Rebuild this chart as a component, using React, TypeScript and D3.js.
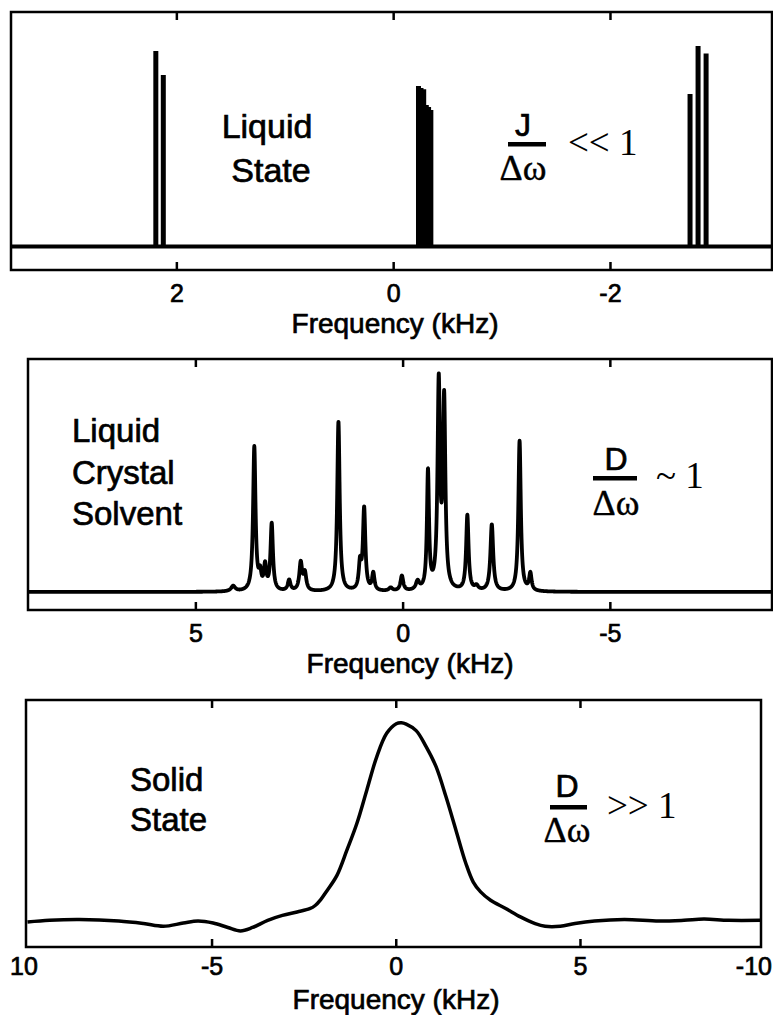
import React from 'react';
import * as d3 from 'd3';

// ---- Liquid state: narrow, J-coupled lines (kHz, relative height) ----
const liquidLineFreqs = [2.194, 2.125, -0.229, -0.252, -0.277, -0.301, -0.322, -0.343, -2.734, -2.808, -2.882];
const liquidLineHeights = [0.975, 0.855, 0.8, 0.79, 0.784, 0.706, 0.696, 0.681, 0.76, 1.0, 0.963];
const liquidTicks = [2, 0, -2];
const liquidTickLabels = ['2', '0', '-2'];

// ---- Liquid crystal solvent: dipolar-split lines (kHz, height, half width kHz) ----
const lcPeakFreqs = [4.1, 3.59, 3.45, 3.33, 3.17, 2.75, 2.47, 2.37, 1.56, 1.04, 0.94, 0.72, 0.3, 0.03, -0.35, -0.6, -0.86, -0.99, -1.55, -1.77, -2.14, -2.81, -3.07];
const lcPeakHeights = [0.025, 0.67, 0.07, 0.11, 0.31, 0.05, 0.13, 0.08, 0.79, 0.12, 0.38, 0.08, 0.015, 0.07, 0.04, 0.55, 0.95, 0.87, 0.35, 0.02, 0.31, 0.7, 0.08];
const lcPeakWidths = [0.06, 0.035, 0.035, 0.035, 0.035, 0.04, 0.04, 0.04, 0.035, 0.035, 0.035, 0.035, 0.05, 0.04, 0.05, 0.03, 0.035, 0.035, 0.035, 0.05, 0.04, 0.035, 0.035];
const lcTicks = [5, 0, -5];
const lcTickLabels = ['5', '0', '-5'];

// ---- Solid state: broad, featureless envelope ----
const solidFreqs = [10.01, 9.41, 8.6, 7.53, 6.86, 6.32, 5.78, 5.38, 4.97, 4.57, 4.23, 3.9, 3.49, 3.09, 2.69, 2.35, 2.2, 2.05, 1.88, 1.61, 1.34, 1.07, 0.8, 0.53, 0.26, 0.0, -0.14, -0.27, -0.54, -0.81, -1.08, -1.35, -1.62, -1.89, -2.09, -2.29, -2.56, -2.97, -3.37, -3.77, -4.04, -4.45, -4.85, -5.38, -6.19, -7.13, -7.81, -8.35, -9.02, -9.89];
const solidIntensity = [0.101, 0.108, 0.111, 0.105, 0.095, 0.084, 0.097, 0.105, 0.097, 0.079, 0.065, 0.079, 0.108, 0.128, 0.142, 0.155, 0.168, 0.192, 0.228, 0.29, 0.392, 0.5, 0.635, 0.77, 0.865, 0.904, 0.908, 0.902, 0.876, 0.811, 0.73, 0.608, 0.473, 0.338, 0.263, 0.223, 0.189, 0.156, 0.122, 0.095, 0.084, 0.084, 0.095, 0.105, 0.111, 0.105, 0.108, 0.113, 0.108, 0.108];
const solidTickValues = [10, 5, 0, -5, -10];
const solidTickLabels = ['10', '-5', '0', '5', '-10'];

const SANS = '"Liberation Sans", Arial, Helvetica, sans-serif';
const SERIF = '"Liberation Serif", "Times New Roman", Times, serif';
const INK = 0.7; // slight outline so type carries the weight of the printed figure

type Box = { left: number; right: number; top: number; bottom: number };

const topBox: Box = { left: 11, right: 772, top: 12, bottom: 270 };
const midBox: Box = { left: 28, right: 772, top: 359, bottom: 610 };
const botBox: Box = { left: 26, right: 761, top: 700, bottom: 947 };

function Frame({ box, ticks, x }: { box: Box; ticks: number[]; x: (v: number) => number }) {
  const inner = ticks.filter((t) => x(t) > box.left + 4 && x(t) < box.right - 4);
  return (
    <g stroke="#000" strokeWidth={2.5} fill="none">
      <rect x={box.left} y={box.top} width={box.right - box.left} height={box.bottom - box.top} />
      {inner.map((t) => (
        <g key={t}>
          <line x1={x(t)} x2={x(t)} y1={box.top} y2={box.top + 8} />
          <line x1={x(t)} x2={x(t)} y1={box.bottom} y2={box.bottom - 8} />
        </g>
      ))}
    </g>
  );
}

function TickLabels({ ticks, labels, x, y, box }: { ticks: number[]; labels: string[]; x: (v: number) => number; y: number; box: Box }) {
  return (
    <g fontFamily={SANS} fontSize={25} fill="#000" stroke="#000" strokeWidth={INK}>
      {ticks.map((t, i) => {
        const px = x(t);
        // end labels sitting on the frame edge are kept inside the page
        const anchor = px < box.left + 4 ? 'start' : px > box.right - 4 ? 'end' : 'middle';
        const tx = anchor === 'start' ? 10 : anchor === 'end' ? 772 : px;
        return (
          <text key={t} x={tx} y={y} textAnchor={anchor}>
            {labels[i]}
          </text>
        );
      })}
    </g>
  );
}

function Ratio({ cx, top, bottom, sym, rel, barY, barX0, barX1, relX, relY }: {
  cx: number; top: number; bottom: number; sym: string; rel: string; barY: number; barX0: number; barX1: number; relX: number; relY: number;
}) {
  return (
    <g fill="#000">
      <text x={cx} y={top} fontFamily={SANS} fontSize={32} textAnchor="middle" stroke="#000" strokeWidth={INK}>{sym}</text>
      <rect x={barX0} y={barY} width={barX1 - barX0} height={4.5} />
      <text x={cx} y={bottom} fontFamily={SERIF} fontSize={36} textAnchor="middle" stroke="#000" strokeWidth={0.4}>Δω</text>
      <text x={relX} y={relY} fontFamily={SERIF} fontSize={37}>{rel}</text>
    </g>
  );
}

export default function App() {
  // Liquid state panel
  const xTop = d3.scaleLinear().domain([3.53, -3.49]).range([topBox.left, topBox.right]);
  const yTop = d3.scaleLinear().domain([0, 1]).range([246.5, 46]);
  const [dTopMax, dTopMin] = xTop.domain();
  const baseTop = d3.line<number>().x((f) => xTop(f)).y(() => yTop(0))([dTopMax, dTopMin]) || '';
  const stick = d3.line<[number, number]>().x((d) => xTop(d[0])).y((d) => yTop(d[1]));

  // Liquid crystal panel: sum of Lorentzian lines on a fine grid
  const xMid = d3.scaleLinear().domain([9.05, -8.9]).range([midBox.left, midBox.right]);
  const yMid = d3.scaleLinear().domain([0, 1]).range([592, 377]);
  const grid = d3.range(9.05, -8.9, -0.004);
  const lcSpectrum = grid.map((f) => {
    let s = 0;
    for (let i = 0; i < lcPeakFreqs.length; i++) {
      const w = lcPeakWidths[i];
      const d = f - lcPeakFreqs[i];
      s += (lcPeakHeights[i] * w * w) / (w * w + d * d);
    }
    return [f, s] as [number, number];
  });
  const midPath = d3.line<[number, number]>().x((d) => xMid(d[0])).y((d) => yMid(d[1]))(lcSpectrum) || '';

  // Solid state panel
  const xBot = d3.scaleLinear().domain([10.05, -9.9]).range([botBox.left, botBox.right]);
  const yBot = d3.scaleLinear().domain([0, 1]).range([botBox.bottom, botBox.top]);
  const solidPts = solidFreqs.map((f, i) => [f, solidIntensity[i]] as [number, number]);
  const botPath = d3
    .line<[number, number]>()
    .x((d) => xBot(d[0]))
    .y((d) => yBot(d[1]))
    .curve(d3.curveCatmullRom.alpha(0.5))(solidPts) || '';

  const labelStyle = { fontFamily: SANS, fill: '#000', stroke: '#000', strokeWidth: INK };

  return (
    <svg width={773} height={1015} style={{ position: 'absolute', left: 0, top: 0, background: '#fff' }}>
      <rect width={773} height={1015} fill="#fff" />

      {/* Liquid state */}
      <Frame box={topBox} ticks={liquidTicks} x={xTop} />
      <path d={baseTop} stroke="#000" strokeWidth={4} fill="none" />
      {liquidLineFreqs.map((f, i) => (
        <path key={i} d={stick([[f, 0], [f, liquidLineHeights[i]]]) || ''} stroke="#000" strokeWidth={5} fill="none" />
      ))}
      <g style={labelStyle} fontSize={34} textAnchor="middle">
        <text x={267} y={138}>Liquid</text>
        <text x={271} y={181.5}>State</text>
      </g>
      <Ratio cx={523} top={136} bottom={180} sym="J" rel="<< 1" barY={142} barX0={508} barX1={546} relX={568} relY={155} />
      <TickLabels ticks={liquidTicks} labels={liquidTickLabels} x={xTop} y={302} box={topBox} />
      <text x={395} y={333} style={labelStyle} fontSize={28} textAnchor="middle">Frequency (kHz)</text>

      {/* Liquid crystal solvent */}
      <Frame box={midBox} ticks={lcTicks} x={xMid} />
      <path d={midPath} stroke="#000" strokeWidth={3.8} fill="none" strokeLinejoin="round" />
      <g style={labelStyle} fontSize={33}>
        <text x={72} y={442}>Liquid</text>
        <text x={72} y={484}>Crystal</text>
        <text x={72} y={525}>Solvent</text>
      </g>
      <Ratio cx={616} top={470} bottom={515} sym="D" rel="~ 1" barY={476} barX0={593} barX1={637} relX={656} relY={488} />
      <TickLabels ticks={lcTicks} labels={lcTickLabels} x={xMid} y={642} box={midBox} />
      <text x={410} y={673} style={labelStyle} fontSize={28} textAnchor="middle">Frequency (kHz)</text>

      {/* Solid state */}
      <Frame box={botBox} ticks={solidTickValues} x={xBot} />
      <path d={botPath} stroke="#000" strokeWidth={3.5} fill="none" strokeLinejoin="round" />
      <g style={labelStyle} fontSize={33}>
        <text x={130} y={791}>Solid</text>
        <text x={130} y={831}>State</text>
      </g>
      <Ratio cx={567} top={797} bottom={842} sym="D" rel=">> 1" barY={805} barX0={550} barX1={587} relX={607} relY={818} />
      <TickLabels ticks={solidTickValues} labels={solidTickLabels} x={xBot} y={975} box={botBox} />
      <text x={396} y={1009} style={labelStyle} fontSize={28} textAnchor="middle">Frequency (kHz)</text>
    </svg>
  );
}
